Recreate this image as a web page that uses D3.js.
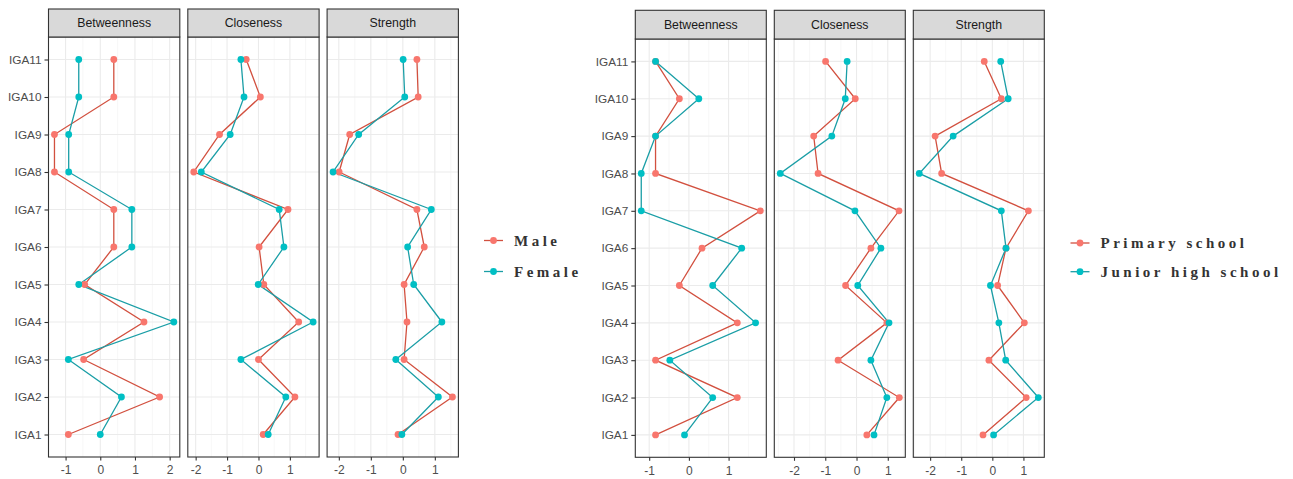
<!DOCTYPE html>
<html>
<head>
<meta charset="utf-8">
<script src="https://cdn.jsdelivr.net/npm/d3@7"></script>
<style>
  html, body { margin: 0; padding: 0; background: #ffffff; }
  svg { display: block; }
</style>
</head>
<body>
<svg id="chart" width="1293" height="479"></svg>
<script>
// ---------------- DATA ----------------
const categories = ["IGA1","IGA2","IGA3","IGA4","IGA5","IGA6","IGA7","IGA8","IGA9","IGA10","IGA11"];
const measures = ["Betweenness","Closeness","Strength"];

// Left figure: gender
const genderGroups = ["Male","Female"];
const maleBetweenness   = [-0.92, 1.71, -0.48, 1.26, -0.45, 0.39, 0.39, -1.32, -1.32, 0.39, 0.39];
const femaleBetweenness = [ 0.00, 0.61, -0.92, 2.12, -0.62, 0.91, 0.91, -0.91, -0.91, -0.62, -0.62];
const maleCloseness     = [ 0.15, 1.16,  0.00, 1.28,  0.17, 0.02, 0.94, -2.06, -1.24, 0.06, -0.39];
const femaleCloseness   = [ 0.31, 0.87, -0.56, 1.74, -0.01, 0.81, 0.66, -1.82, -0.90, -0.46, -0.56];
const maleStrength      = [-0.15, 1.55,  0.04, 0.13,  0.04, 0.67, 0.44, -1.99, -1.66, 0.48, 0.44];
const femaleStrength    = [-0.03, 1.11, -0.22, 1.22,  0.34, 0.15, 0.89, -2.18, -1.38, 0.06, 0.01];

// Right figure: school level
const schoolGroups = ["Primary school","Junior high school"];
const primaryBetweenness = [-0.84, 1.22, -0.84, 1.22, -0.24, 0.33, 1.80, -0.84, -0.84, -0.24, -0.84];
const juniorBetweenness  = [-0.11, 0.60, -0.48, 1.68,  0.60, 1.33, -1.20, -1.20, -0.84, 0.25, -0.84];
const primaryCloseness   = [ 0.33, 1.37, -0.59, 0.97, -0.35, 0.46, 1.36, -1.23, -1.37, -0.04, -0.99];
const juniorCloseness    = [ 0.56, 0.97,  0.46, 1.04,  0.04, 0.78, -0.05, -2.44, -0.79, -0.36, -0.30];
const primaryStrength    = [-0.30, 1.09, -0.11, 1.03,  0.17, 0.44, 1.16, -1.63, -1.84, 0.29, -0.26];
const juniorStrength     = [ 0.04, 1.48,  0.43, 0.21, -0.06, 0.44, 0.29, -2.35, -1.26, 0.51, 0.27];

// ---------------- STYLE ----------------
const pointColors = ["#F8766D", "#00BFC4"];
const lineColors  = ["#D2503F", "#1A9EA6"];

const svg = d3.select("#chart");

function drawFigure(opts) {
  const { left, panelWidth, gap, stripTop, stripBottom, panelBottom, groups, seriesByMeasure, legendX, legendY, legendSpacing } = opts;
  const g = svg.append("g");

  const y = d3.scalePoint()
    .domain(categories.slice().reverse())
    .range([stripBottom, panelBottom])
    .padding(0.6);

  measures.forEach((m, mi) => {
    const x0 = left + mi * (panelWidth + gap);
    const x1 = x0 + panelWidth;
    const series = seriesByMeasure[m];
    const all = series.flat();
    const [mn, mx] = d3.extent(all);
    const pad = (mx - mn) * 0.05;
    const x = d3.scaleLinear().domain([mn - pad, mx + pad]).range([x0, x1]);

    const majors = d3.range(Math.ceil(mn - pad), Math.floor(mx + pad) + 1);
    const minors = d3.range(Math.ceil((mn - pad) * 2) / 2, mx + pad, 0.5).filter(v => Math.abs(v - Math.round(v)) > 0.01);

    const p = g.append("g");
    p.append("rect").attr("x", x0).attr("y", stripBottom).attr("width", panelWidth).attr("height", panelBottom - stripBottom).attr("fill", "#ffffff");
    p.selectAll(".minor").data(minors).join("line")
      .attr("x1", d => x(d)).attr("x2", d => x(d))
      .attr("y1", stripBottom).attr("y2", panelBottom)
      .attr("stroke", "#f1f1f1").attr("stroke-width", 0.6);
    p.selectAll(".majorv").data(majors).join("line")
      .attr("x1", d => x(d)).attr("x2", d => x(d))
      .attr("y1", stripBottom).attr("y2", panelBottom)
      .attr("stroke", "#ebebeb").attr("stroke-width", 1.1);
    p.selectAll(".majorh").data(categories).join("line")
      .attr("x1", x0).attr("x2", x1)
      .attr("y1", d => y(d)).attr("y2", d => y(d))
      .attr("stroke", "#ebebeb").attr("stroke-width", 1.1);

    const line = d3.line().x(d => x(d.v)).y(d => y(d.c));
    series.forEach((vals, si) => {
      const pts = vals.map((v, i) => ({ v, c: categories[i] }));
      p.append("path").datum(pts).attr("d", line)
        .attr("fill", "none").attr("stroke", lineColors[si]).attr("stroke-width", 1.3);
    });
    series.forEach((vals, si) => {
      const pts = vals.map((v, i) => ({ v, c: categories[i] }));
      p.selectAll(".pt" + si).data(pts).join("circle")
        .attr("cx", d => x(d.v)).attr("cy", d => y(d.c)).attr("r", 3.4)
        .attr("fill", pointColors[si]);
    });

    p.append("rect").attr("x", x0).attr("y", stripBottom).attr("width", panelWidth).attr("height", panelBottom - stripBottom)
      .attr("fill", "none").attr("stroke", "#333333").attr("stroke-width", 1.1);
    p.append("rect").attr("x", x0).attr("y", stripTop).attr("width", panelWidth).attr("height", stripBottom - stripTop)
      .attr("fill", "#d9d9d9").attr("stroke", "#333333").attr("stroke-width", 1.1);
    p.append("text").attr("x", (x0 + x1) / 2).attr("y", (stripTop + stripBottom) / 2)
      .attr("text-anchor", "middle").attr("dominant-baseline", "central")
      .attr("font-family", "Liberation Sans, Arial, sans-serif").attr("font-size", 12.3)
      .attr("fill", "#1a1a1a").text(m);

    const xa = p.append("g").attr("transform", `translate(0,${panelBottom})`)
      .call(d3.axisBottom(x).tickValues(majors).tickFormat(d => String(d)).tickSize(3.5).tickSizeOuter(0));
    xa.select(".domain").remove();
    xa.selectAll(".tick line").attr("stroke", "#333333").attr("stroke-width", 1.1);
    xa.selectAll(".tick text").attr("fill", "#4d4d4d").attr("font-size", 12)
      .attr("font-family", "Liberation Sans, Arial, sans-serif").attr("dy", "0.9em");

    if (mi === 0) {
      const ya = p.append("g").attr("transform", `translate(${x0},0)`)
        .call(d3.axisLeft(y).tickSize(4).tickSizeOuter(0).tickPadding(3));
      ya.select(".domain").remove();
      ya.selectAll(".tick line").attr("stroke", "#333333").attr("stroke-width", 1.1);
      ya.selectAll(".tick text").attr("fill", "#4d4d4d").attr("font-size", 11.8)
        .attr("font-family", "Liberation Sans, Arial, sans-serif");
    }
  });

  const lg = g.append("g");
  groups.forEach((name, i) => {
    const ly = legendY + i * legendSpacing;
    lg.append("line").attr("x1", legendX).attr("x2", legendX + 19).attr("y1", ly).attr("y2", ly)
      .attr("stroke", lineColors[i]).attr("stroke-width", 1.3);
    lg.append("circle").attr("cx", legendX + 9.5).attr("cy", ly).attr("r", 3.4).attr("fill", pointColors[i]);
    lg.append("text").attr("x", legendX + 30).attr("y", ly).attr("dominant-baseline", "central")
      .attr("font-family", "Liberation Serif, 'Times New Roman', serif").attr("font-weight", "bold")
      .attr("font-size", 15).attr("letter-spacing", "3.5px").attr("fill", "#333333").text(name);
  });
}

drawFigure({
  left: 48.5, panelWidth: 131.3, gap: 8,
  stripTop: 9, stripBottom: 37, panelBottom: 457,
  groups: genderGroups,
  seriesByMeasure: {
    Betweenness: [maleBetweenness, femaleBetweenness],
    Closeness: [maleCloseness, femaleCloseness],
    Strength: [maleStrength, femaleStrength]
  },
  legendX: 484, legendY: 240.5, legendSpacing: 31
});

drawFigure({
  left: 635.3, panelWidth: 131, gap: 8,
  stripTop: 10.3, stripBottom: 39, panelBottom: 457.3,
  groups: schoolGroups,
  seriesByMeasure: {
    Betweenness: [primaryBetweenness, juniorBetweenness],
    Closeness: [primaryCloseness, juniorCloseness],
    Strength: [primaryStrength, juniorStrength]
  },
  legendX: 1070.5, legendY: 243, legendSpacing: 28.7
});
</script>
</body>
</html>
